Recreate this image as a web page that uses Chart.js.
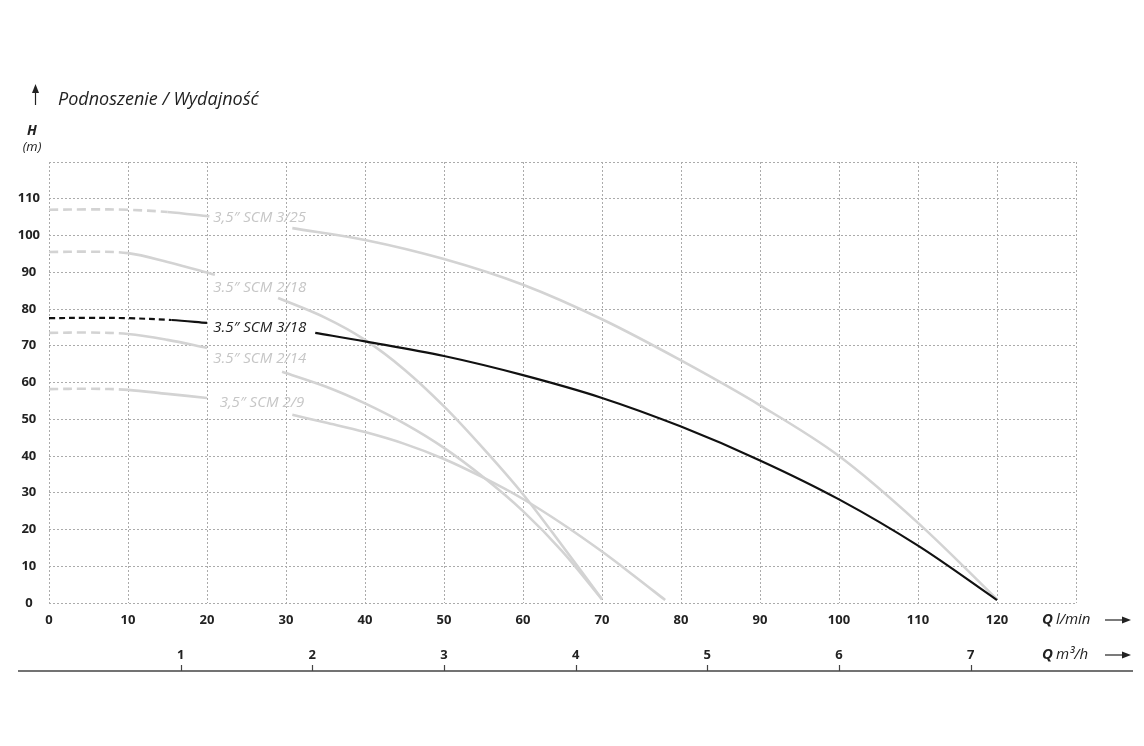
<!DOCTYPE html>
<html>
<head>
<meta charset="utf-8">
<script src="https://cdn.jsdelivr.net/npm/chart.js@4.4.0/dist/chart.umd.min.js"></script>
<style>
    html, body { margin: 0; padding: 0; background: #fff; }
    #wrap { width: 1144px; height: 746px; position: relative; }
</style>
</head>
<body>
<div id="wrap"><canvas id="chart"></canvas></div>
<script>
// axis ticks
const flowTicksLmin = [0, 10, 20, 30, 40, 50, 60, 70, 80, 90, 100, 110, 120, 130];
const headTicks = [0, 10, 20, 30, 40, 50, 60, 70, 80, 90, 100, 110, 120];
const flowTicksM3 = [1, 2, 3, 4, 5, 6, 7];

// curve names, in the order they are stacked on the left
const curveNames = ['3,5\u2033 SCM 3/25', '3.5\u2033 SCM 2/18', '3.5\u2033 SCM 3/18', '3.5\u2033 SCM 2/14', '3,5\u2033 SCM 2/9'];
const highlighted = '3.5\u2033 SCM 3/18';

// Q (l/min) and H (m), null = gap left for the label
const scm325Q = [0, 5, 10, 15, 20.3, 25, 30.8, 40, 50, 60, 70, 80, 90, 100, 110, 120];
const scm325H = [107, 107.1, 107, 106.4, 105.2, null, 102, 98.8, 93.6, 86.6, 77.2, 66, 53.8, 40, 21.8, 1];

const scm218Q = [0, 5, 10, 15, 21, 25, 29, 35, 40, 45, 50, 55, 60, 65, 70];
const scm218H = [95.5, 95.6, 95.2, 92.8, 89.3, null, 83, 77.6, 71.6, 63.5, 53.5, 42, 29.6, 15.5, 1];

const scm318Q = [0, 5, 10, 15.5, 20, 27, 33.7, 40, 50, 60, 70, 80, 90, 100, 110, 120];
const scm318H = [77.5, 77.6, 77.5, 77, 76.2, null, 73.5, 71.2, 67.2, 62, 55.8, 48, 38.8, 28.2, 15.6, 0.8];

const scm214Q = [0, 5, 10, 15, 20, 25, 29.5, 35, 40, 45, 50, 55, 60, 65, 70];
const scm214H = [73.5, 73.6, 73.2, 71.6, 69.4, null, 62.9, 58.9, 54.3, 48.8, 42.2, 34.2, 25, 14, 1];

const scm29Q = [0, 5, 10, 15, 20, 25, 30.8, 35, 40, 45, 50, 55, 60, 65, 70, 74, 78];
const scm29H = [58.2, 58.3, 58, 56.9, 55.8, null, 51.2, 49.1, 46.5, 43.3, 39.2, 34.1, 28.3, 21.5, 14, 7.5, 0.8];

// extrapolated (dashed) part of each curve ends at this Q
const dashedUntil = [15, 10, 15.5, 10, 10];

// where each curve name sits (Q, H)
const labelQ = [20.8, 20.8, 20.8, 20.8, 21.6];
const labelH = [104.8, 85.7, 74.8, 66.4, 54.4];

const curveQ = [scm325Q, scm218Q, scm318Q, scm214Q, scm29Q];
const curveH = [scm325H, scm218H, scm318H, scm214H, scm29H];

const FONT = '"Open Sans", "DejaVu Sans", sans-serif';
const GREY_LINE = '#d3d3d3';
const GREY_TEXT = '#c6c6c6';
const BLACK = '#111111';
const GRID = '#ababab';

const datasets = curveNames.map((name, i) => {
    const isMain = name === highlighted;
    const dashEnd = dashedUntil[i];
    return {
        label: name,
        data: curveQ[i].map((q, j) => ({ x: q, y: curveH[i][j] })),
        borderColor: isMain ? BLACK : GREY_LINE,
        borderWidth: isMain ? 2.2 : 2.6,
        pointRadius: 0,
        fill: false,
        tension: 0.35,
        order: isMain ? 0 : 1,
        segment: {
            borderDash: ctx => ctx.p1.parsed.x <= dashEnd ? (isMain ? [6, 4] : [9, 5]) : undefined,
        },
    };
});

const drawArrowRight = (ctx, x0, x1, y) => {
    ctx.beginPath();
    ctx.moveTo(x0, y);
    ctx.lineTo(x1 - 6, y);
    ctx.stroke();
    ctx.beginPath();
    ctx.moveTo(x1, y);
    ctx.lineTo(x1 - 9, y - 3.5);
    ctx.lineTo(x1 - 9, y + 3.5);
    ctx.closePath();
    ctx.fill();
};

const decorations = {
    id: 'decorations',
    afterDatasetsDraw(chart) {
        const { ctx, scales } = chart;
        const x = scales.x;
        const y = scales.y;
        const x2 = scales.x2;

        ctx.save();
        // curve names
        ctx.textBaseline = 'middle';
        ctx.textAlign = 'left';
        ctx.font = 'italic 15px ' + FONT;
        curveNames.forEach((name, i) => {
            ctx.fillStyle = name === highlighted ? '#222' : GREY_TEXT;
            ctx.fillText(name, x.getPixelForValue(labelQ[i]), y.getPixelForValue(labelH[i]));
        });

        // header
        ctx.fillStyle = '#222';
        ctx.strokeStyle = '#222';
        ctx.lineWidth = 1.2;
        ctx.beginPath();
        ctx.moveTo(35.5, 105);
        ctx.lineTo(35.5, 92);
        ctx.stroke();
        ctx.beginPath();
        ctx.moveTo(35.5, 84);
        ctx.lineTo(32, 93);
        ctx.lineTo(39, 93);
        ctx.closePath();
        ctx.fill();
        ctx.font = 'italic 18px ' + FONT;
        ctx.fillText('Podnoszenie / Wydajno\u015B\u0107', 58, 100);
        ctx.textAlign = 'center';
        ctx.font = 'italic bold 14px ' + FONT;
        ctx.fillText('H', 32, 131);
        ctx.font = 'italic 13px ' + FONT;
        ctx.fillText('(m)', 32, 147);

        // axis names on the right
        const rowA = x.top + 17;
        const rowB = x2.top + 17;
        ctx.textAlign = 'left';
        [[rowA, 'l/min'], [rowB, 'm\u00B3/h']].forEach(([ry, unit]) => {
            ctx.font = 'italic bold 15px ' + FONT;
            ctx.fillText('Q', 1042, ry);
            const qw = ctx.measureText('Q').width;
            ctx.font = 'italic 15px ' + FONT;
            ctx.fillText(unit, 1042 + qw + 3, ry);
            drawArrowRight(ctx, 1105, 1131, ry);
        });

        // baseline of the m3/h scale with its ticks
        const baseY = x2.bottom - 2;
        ctx.strokeStyle = '#444';
        ctx.lineWidth = 1.5;
        ctx.beginPath();
        ctx.moveTo(18, baseY);
        ctx.lineTo(1133, baseY);
        ctx.stroke();
        ctx.lineWidth = 1.2;
        flowTicksM3.forEach(v => {
            const px = Math.round(x2.getPixelForValue(v)) + 0.5;
            ctx.beginPath();
            ctx.moveTo(px, baseY - 6);
            ctx.lineTo(px, baseY);
            ctx.stroke();
        });
        ctx.restore();
    },
};

const tickFont = { family: FONT, size: 13, weight: 'bold' };

new Chart(document.getElementById('chart').getContext('2d'), {
    type: 'line',
    data: { datasets },
    options: {
        responsive: true,
        maintainAspectRatio: false,
        animation: false,
        devicePixelRatio: 1,
        layout: { padding: { top: 162, right: 68, bottom: 73, left: 18 } },
        plugins: { legend: { display: false }, tooltip: { enabled: false } },
        scales: {
            x: {
                type: 'linear',
                position: 'bottom',
                min: flowTicksLmin[0],
                max: flowTicksLmin[flowTicksLmin.length - 1],
                afterBuildTicks: s => { s.ticks = flowTicksLmin.map(v => ({ value: v })); },
                afterFit: s => { s.height = 35; },
                ticks: {
                    padding: 9,
                    color: '#222',
                    font: tickFont,
                    maxRotation: 0,
                    callback: v => (v === 130 ? '' : v),
                },
                grid: { color: GRID, lineWidth: 1, drawTicks: false },
                border: { display: false, dash: [2, 2] },
            },
            x2: {
                type: 'linear',
                axis: 'x',
                position: 'bottom',
                min: 0,
                max: flowTicksLmin[flowTicksLmin.length - 1] * 60 / 1000,
                afterBuildTicks: s => { s.ticks = flowTicksM3.map(v => ({ value: v })); },
                afterFit: s => { s.height = 35; },
                ticks: { padding: 9, color: '#222', font: tickFont, maxRotation: 0 },
                grid: { display: false, drawTicks: false },
                border: { display: false },
            },
            y: {
                type: 'linear',
                min: headTicks[0],
                max: headTicks[headTicks.length - 1],
                afterBuildTicks: s => { s.ticks = headTicks.map(v => ({ value: v })); },
                afterFit: s => { s.width = 31; },
                ticks: {
                    padding: 9,
                    crossAlign: 'center',
                    color: '#222',
                    font: tickFont,
                    callback: v => (v === 120 ? '' : v),
                },
                grid: { color: GRID, lineWidth: 1, drawTicks: false },
                border: { display: false, dash: [2, 2] },
            },
        },
    },
    plugins: [decorations],
});
</script>
</body>
</html>
